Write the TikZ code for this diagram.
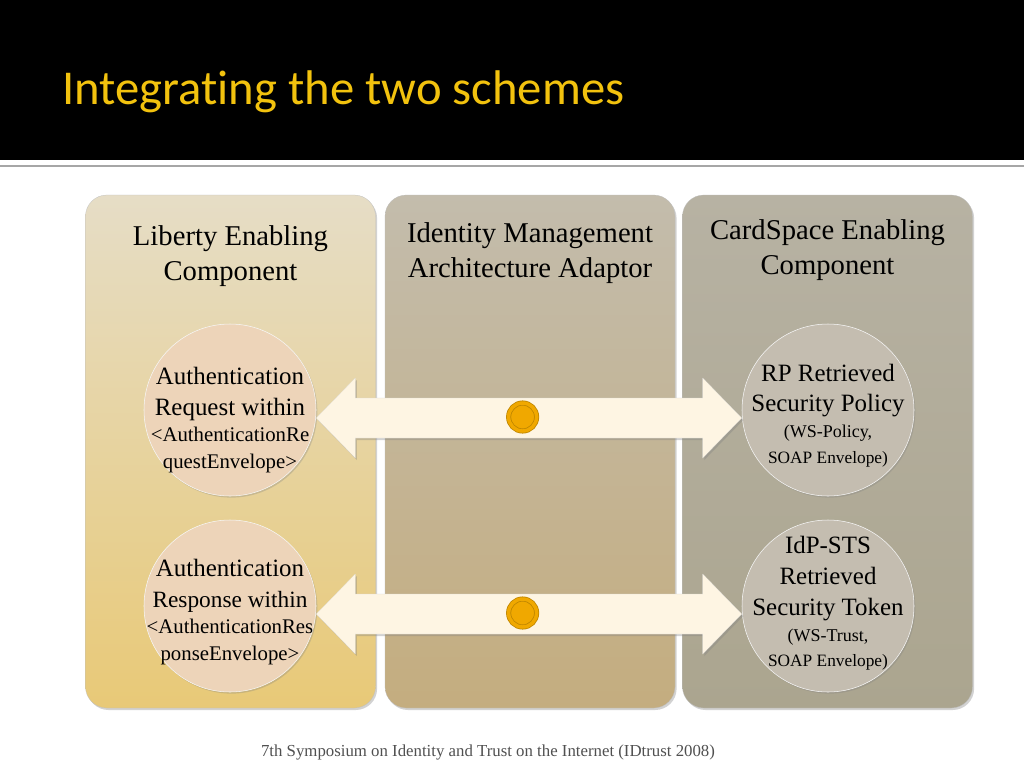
\documentclass[tikz,border=0pt]{standalone}
\usepackage{fontspec}
\setmainfont{Liberation Serif}
\newfontfamily\titlefont[Ligatures=NoCommon]{Carlito}
\usepackage{xcolor}
\usepackage{tikz}
\usetikzlibrary{positioning, calc, shadows}

\definecolor{titlegold}{HTML}{F2C20E}
\definecolor{libtop}{HTML}{E6DDC6}
\definecolor{libbot}{HTML}{E8C977}
\definecolor{adatop}{HTML}{C3BCAC}
\definecolor{adabot}{HTML}{C4AD7F}
\definecolor{cardtop}{HTML}{B7B2A3}
\definecolor{cardbot}{HTML}{ABA58F}
\definecolor{peach}{HTML}{EDD4B9}
\definecolor{stone}{HTML}{C4BDB0}
\definecolor{cream}{HTML}{FEF5E3}
\definecolor{dotfill}{HTML}{F0A800}
\definecolor{dotedge}{HTML}{BF8600}
\definecolor{footgray}{HTML}{505050}

\tikzset{
    panel/.style={
        rectangle,
        rounded corners=16pt,
        minimum width=217.5pt,
        minimum height=384.75pt,
        draw=black!25,
        very thin,
        drop shadow={shadow xshift=1.2pt, shadow yshift=-1.5pt, opacity=0.35}
    },
    heading/.style={
        align=center,
        font=\fontsize{21.5}{26}\selectfont
    },
    item/.style={
        circle,
        minimum size=129pt,
        inner sep=0pt,
        draw=white!70!black!10,
        thin,
        drop shadow={shadow xshift=1pt, shadow yshift=-1.2pt, opacity=0.3}
    },
    itemtext/.style={
        align=center,
        inner sep=0pt,
        font=\fontsize{18.7}{23}\selectfont
    },
    fatarrow/.style={
        fill=cream,
        draw=black!15,
        ultra thin,
        drop shadow={shadow xshift=1.2pt, shadow yshift=-1.5pt, opacity=0.35}
    },
    token/.style={
        circle,
        minimum size=21pt,
        inner sep=0pt,
        fill=dotfill,
        draw=dotedge,
        double=dotfill,
        double distance=2.6pt,
        line width=0.6pt
    }
}

\begin{document}
\begin{tikzpicture}[x=0.75pt, y=-0.75pt]
\useasboundingbox (0,0) rectangle (1024,768);
\fill[white] (0,0) rectangle (1024,768);

% Title bar
\fill[black] (0,0) rectangle (1024,160);
\draw[black!35, line width=1.5pt] (0,166) -- (1024,166);
\node[anchor=base west, inner sep=0pt, text=titlegold, font=\titlefont\fontsize{36.5}{40}\selectfont] (title) at (62,104) {Integrating the two schemes};

% Three columns
\node[panel, top color=libtop, bottom color=libbot] (liberty) at (230.5,451.5) {};
\node[panel, top color=adatop, bottom color=adabot] (adaptor) at (530,451.5) {};
\node[panel, top color=cardtop, bottom color=cardbot] (cardspace) at (827.5,451.5) {};

\node[heading] (liberty_h) at (230.5,256) {Liberty Enabling\\Component};
\node[heading] (adaptor_h) at (530,253) {Identity Management\\Architecture Adaptor};
\node[heading] (cardspace_h) at (827.5,250) {CardSpace Enabling\\Component};

% Messages (left and right)
\node[item, fill=peach, label={[itemtext, yshift=-7.5pt]center:{Authentication\\Request within\\[-3pt]{\fontsize{15.6}{20}\selectfont <AuthenticationRe}\\[-3pt]{\fontsize{15.6}{20}\selectfont questEnvelope>}}}] (authreq) at (230,410) {};
\node[item, fill=peach, label={[itemtext, yshift=-4.5pt]center:{Authentication\\{\fontsize{17.5}{22}\selectfont Response within}\\[-3pt]{\fontsize{15.6}{20}\selectfont <AuthenticationRes}\\[-3pt]{\fontsize{15.6}{20}\selectfont ponseEnvelope>}}}] (authresp) at (230,606) {};
\node[item, fill=stone, label={[itemtext, yshift=-4pt]center:{RP Retrieved\\Security Policy\\[-3.5pt]{\fontsize{13.5}{17}\selectfont (WS-Policy,}\\[-4pt]{\fontsize{13}{17}\selectfont SOAP Envelope)}}}] (rppolicy) at (828,410) {};
\node[item, fill=stone, label={[itemtext, yshift=2pt]center:{IdP-STS\\Retrieved\\Security Token\\[-3.5pt]{\fontsize{13.5}{17}\selectfont (WS-Trust,}\\[-4pt]{\fontsize{13}{17}\selectfont SOAP Envelope)}}}] (ststoken) at (828,606) {};

% Arrow ends
\coordinate (reqend) at ($(authreq.east)+(0,8)$);
\coordinate (polend) at ($(rppolicy.west)+(0,8)$);
\coordinate (respend) at ($(authresp.east)+(0,8)$);
\coordinate (tokend) at ($(ststoken.west)+(0,8)$);

% Exchanges through the adaptor
\draw[fatarrow] (reqend) -- ++(39,-40) -- ++(0,20) -- ($(polend)+(-39,-20)$) -- ++(0,-20) -- (polend)
    -- ++(-39,40) -- ++(0,-20) -- ($(reqend)+(39,20)$) -- ++(0,20) -- cycle;
\draw[fatarrow] (respend) -- ++(39,-40) -- ++(0,20) -- ($(tokend)+(-39,-20)$) -- ++(0,-20) -- (tokend)
    -- ++(-39,40) -- ++(0,-20) -- ($(respend)+(39,20)$) -- ++(0,20) -- cycle;

\node[token] (dot1) at ($(reqend)!0.485!(polend)+(0,-1)$) {};
\node[token] (dot2) at ($(respend)!0.485!(tokend)+(0,-1)$) {};

% Footer
\node[text=footgray, font=\fontsize{12.6}{14}\selectfont] (footer) at (488,752) {7th Symposium on Identity and Trust on the Internet (IDtrust 2008)};

\end{tikzpicture}
\end{document}
